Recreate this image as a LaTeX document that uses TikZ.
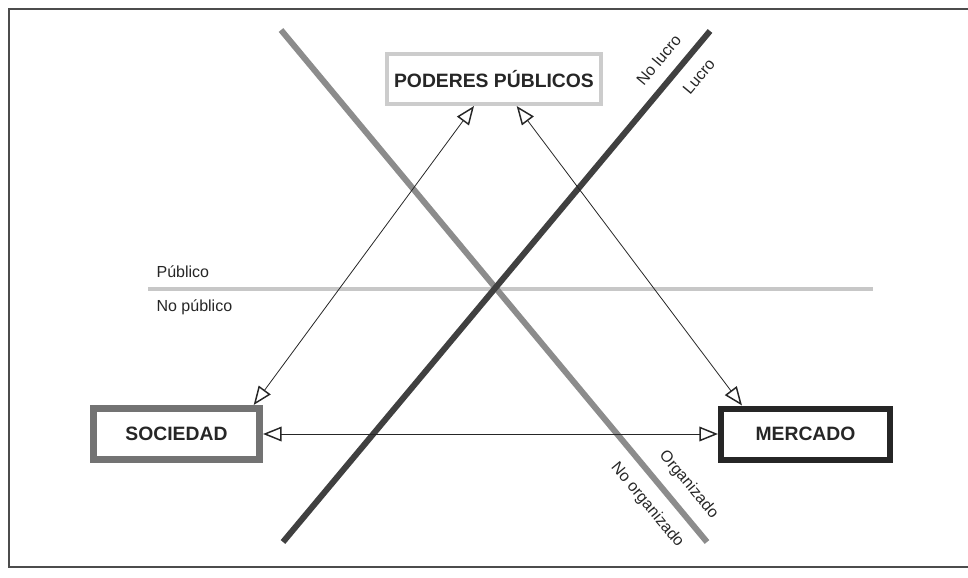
\documentclass[tikz,border=0pt]{standalone}
\usepackage{fontspec}
\setmainfont{Liberation Sans}
\usetikzlibrary{arrows.meta,calc}
\tikzset{
  caja/.style={draw, rectangle, inner sep=0pt, font=\fontsize{14.5}{17}\selectfont\bfseries, text=black!85},
  punta/.style={Triangle[open,length=14pt,width=11pt,line width=1.1pt]},
  flecha/.style={{Triangle[open,length=14pt,width=11pt,line width=1.1pt]}-{Triangle[open,length=14pt,width=11pt,line width=1.1pt]}, line width=0.6pt, black!85},
  eje/.style={line width=4.5pt},
  rotulo/.style={font=\fontsize{12}{14}\selectfont, text=black!85, inner sep=1pt}
}

\begin{document}
\begin{tikzpicture}[x=0.75pt,y=-0.75pt]
		%%%%% START %%%%%
		\useasboundingbox (0,0) rectangle (968,578);
		\draw[line width=1.5pt, black!70] (968,9) -- (9,9) -- (9,567) -- (968,567);
		
		% publico / no publico
		\draw[line width=2.5pt, black!22] (148,289) -- (873,289);
		\node[rotulo, anchor=base west] (pub) at (155,277) {Público};
		\node[rotulo, anchor=base west] (nopub) at (155,311) {No público};
		
		% ejes diagonales
		\draw[eje, black!45] (281,30) -- (707,542)
			node[rotulo, sloped, above=8pt, pos=0.916] (org) {Organizado}
			node[rotulo, sloped, below=8pt, pos=0.90] (noorg) {No organizado};
		\draw[eje, black!75] (283,542) -- (710,31)
			node[rotulo, sloped, above=8pt, pos=0.917] (nolucro) {No lucro}
			node[rotulo, sloped, below=8pt, pos=0.937] (lucro) {Lucro};
		
		% cajas
		\node[caja, draw=black!20, line width=3pt, minimum width=161pt, minimum height=37.5pt] (poderes) at (494,79) {PODERES PÚBLICOS};
		\node[caja, draw=black!55, line width=5.25pt, minimum width=124.5pt, minimum height=38.25pt] (sociedad) at (176.5,434) {SOCIEDAD};
		\node[caja, draw=black!85, line width=4.5pt, minimum width=126.75pt, minimum height=38.25pt] (mercado) at (805.5,434) {MERCADO};
		
		% flechas
		\draw[flecha] ([xshift=-7pt]sociedad.north east) -- ([xshift=-15pt]poderes.south);
		\draw[flecha] ([xshift=18pt]mercado.north west) -- ([xshift=17pt]poderes.south);
		\draw[flecha] (sociedad.east) -- (mercado.west);
		
		%%%%% END %%%%%
\end{tikzpicture}
\end{document}
